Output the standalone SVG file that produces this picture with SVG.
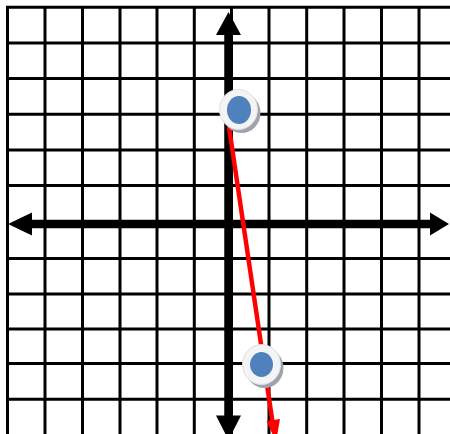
<svg xmlns="http://www.w3.org/2000/svg" width="450" height="434" viewBox="0 0 450 434">
<style>
.grid line{stroke:#000;stroke-width:3}
.axis{stroke:#000;stroke-width:8.5;fill:none}
.ah{fill:#000}
.ring{fill:#f4f4f6;stroke:#e0e0e4;stroke-width:1}
.shadow{fill:#9ea3ad}
.dot{fill:#4f81bd}
</style>
<rect width="450" height="434" fill="#fff"/>
<g class="grid">
<line x1="7.5" y1="7.3" x2="7.5" y2="434"/>
<line x1="45" y1="7.3" x2="45" y2="434"/>
<line x1="82.5" y1="7.3" x2="82.5" y2="434"/>
<line x1="120" y1="7.3" x2="120" y2="434"/>
<line x1="157" y1="7.3" x2="157" y2="434"/>
<line x1="194.3" y1="7.3" x2="194.3" y2="434"/>
<line x1="231.5" y1="7.3" x2="231.5" y2="434"/>
<line x1="269" y1="7.3" x2="269" y2="434"/>
<line x1="306.7" y1="7.3" x2="306.7" y2="434"/>
<line x1="344" y1="7.3" x2="344" y2="434"/>
<line x1="381.5" y1="7.3" x2="381.5" y2="434"/>
<line x1="419" y1="7.3" x2="419" y2="434"/>
<line x1="6" y1="7.3" x2="450" y2="7.3"/>
<line x1="6" y1="43" x2="450" y2="43"/>
<line x1="6" y1="78.6" x2="450" y2="78.6"/>
<line x1="6" y1="114.2" x2="450" y2="114.2"/>
<line x1="6" y1="149.9" x2="450" y2="149.9"/>
<line x1="6" y1="185.5" x2="450" y2="185.5"/>
<line x1="6" y1="258.5" x2="450" y2="258.5"/>
<line x1="6" y1="294" x2="450" y2="294"/>
<line x1="6" y1="329" x2="450" y2="329"/>
<line x1="6" y1="363.5" x2="450" y2="363.5"/>
<line x1="6" y1="399.3" x2="450" y2="399.3"/>
</g>
<g id="axes">
<line class="axis" x1="30" y1="224" x2="432" y2="224"/>
<polygon class="ah" points="8,224 32,212.5 32,235.5"/>
<polygon class="ah" points="449,224 430,212.5 430,235.5"/>
<line class="axis" x1="228.5" y1="33" x2="228.5" y2="420"/>
<polygon class="ah" points="228.5,12 216,35 241,35"/>
<polygon class="ah" points="228.5,440 216,415.5 241,415.5"/>
</g>
<g id="connectors">
<line x1="229" y1="127" x2="272.5" y2="422" stroke="#ff0000" stroke-width="4.5"/>
<polygon points="276,442 266.5,421 280,419" fill="#ff0000"/>
</g>
<g id="point1">
<ellipse class="shadow" cx="241.5" cy="113" rx="19" ry="20"/>
<ellipse class="ring" cx="238.5" cy="109.5" rx="19" ry="20"/>
<ellipse class="dot" cx="239" cy="110" rx="12" ry="14"/>
</g>
<g id="point2">
<ellipse class="shadow" cx="264.5" cy="368" rx="19" ry="20"/>
<ellipse class="ring" cx="261.5" cy="364.5" rx="19" ry="20"/>
<ellipse class="dot" cx="261.5" cy="364.5" rx="11.5" ry="12.5"/>
</g>
</svg>
